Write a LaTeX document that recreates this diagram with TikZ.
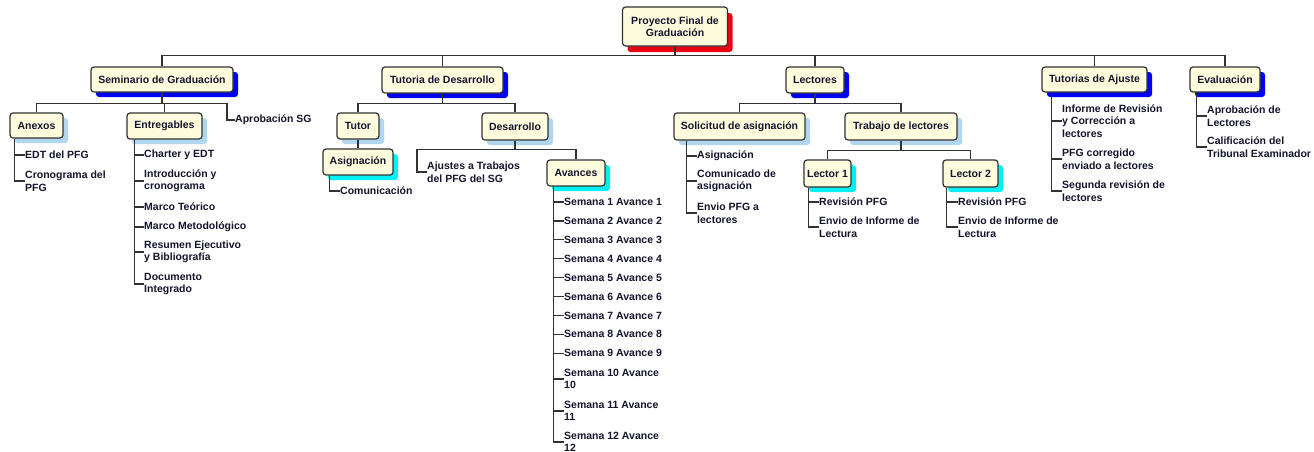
\documentclass[tikz,border=0pt]{standalone}
\usepackage{fontspec}
\setmainfont{Liberation Sans}
\usetikzlibrary{shadows,calc}
\definecolor{boxfill}{RGB}{255,252,222}
\definecolor{linec}{RGB}{50,50,50}
\definecolor{txt}{RGB}{20,20,45}
\definecolor{shA}{RGB}{0,0,245}
\definecolor{shB}{RGB}{176,214,240}
\definecolor{shC}{RGB}{0,240,245}
\definecolor{shR}{RGB}{235,0,20}
\tikzset{
  wbox/.style={draw=linec, line width=1.2pt, rounded corners=3pt, fill=boxfill,
    font=\bfseries\fontsize{10.5}{12.5}\selectfont, text=txt, inner sep=0pt, align=center},
  shadowR/.style={drop shadow={shadow xshift=5pt, shadow yshift=-6pt, fill=shR, opacity=1}},
  shadowA/.style={drop shadow={shadow xshift=5pt, shadow yshift=-5pt, fill=shA, opacity=1}},
  shadowB/.style={drop shadow={shadow xshift=5pt, shadow yshift=-5pt, fill=shB, opacity=1}},
  shadowC/.style={drop shadow={shadow xshift=5pt, shadow yshift=-5pt, fill=shC, opacity=1}},
  leaf/.style={anchor=west, inner sep=0pt, align=left, text=txt,
    font=\bfseries\fontsize{10.5}{12.5}\selectfont},
  conn/.style={draw=linec, line width=1.2pt}
}
\begin{document}
\begin{tikzpicture}[x=1pt,y=-1pt]
\clip (0,0) rectangle (1314,451);
\fill[white] (0,0) rectangle (1314,451);
% boxes
\node[wbox,shadowR,minimum width=105,minimum height=39] (root) at (675,26.5) {Proyecto Final de\\Graduación};
\node[wbox,shadowA,minimum width=142,minimum height=25] (sem) at (162,79.5) {Seminario de Graduación};
\node[wbox,shadowA,minimum width=121,minimum height=26] (tut) at (442.5,80) {Tutoria de Desarrollo};
\node[wbox,shadowA,minimum width=58,minimum height=26] (lec) at (815,80) {Lectores};
\node[wbox,shadowA,minimum width=105,minimum height=25] (taj) at (1094.5,79.5) {Tutorias de Ajuste};
\node[wbox,shadowA,minimum width=70,minimum height=25] (eva) at (1225,79.5) {Evaluación};
\node[wbox,shadowB,minimum width=53,minimum height=25] (anx) at (36.5,125.5) {Anexos};
\node[wbox,shadowB,minimum width=75,minimum height=26] (ent) at (164.5,126) {Entregables};
\node[wbox,shadowB,minimum width=42,minimum height=26] (tutor) at (358,126) {Tutor};
\node[wbox,shadowB,minimum width=66,minimum height=27] (des) at (515,126.5) {Desarrollo};
\node[wbox,shadowC,minimum width=70,minimum height=26] (asg) at (358,162) {Asignación};
\node[wbox,shadowC,minimum width=58,minimum height=26] (ava) at (576,173) {Avances};
\node[wbox,shadowB,minimum width=131,minimum height=27] (sol) at (739.5,126.5) {Solicitud de asignación};
\node[wbox,shadowB,minimum width=112,minimum height=27] (tra) at (901,126.5) {Trabajo de lectores};
\node[wbox,shadowC,minimum width=47,minimum height=27] (l1) at (827.5,173.5) {Lector 1};
\node[wbox,shadowC,minimum width=55,minimum height=27] (l2) at (970.5,173.5) {Lector 2};
% leaves
\node[leaf] (a1) at (25,155) {EDT del PFG};
\node[leaf] (a2) at (25,181) {Cronograma del\\PFG};
\node[leaf] (e1) at (144,155) {Charter y EDT};
\node[leaf] (e2) at (144,181) {Introducción y\\cronograma};
\node[leaf] (e3) at (144,207) {Marco Teórico};
\node[leaf] (e4) at (144,227) {Marco Metodológico};
\node[leaf] (e5) at (144,252) {Resumen Ejecutivo\\y Bibliografía};
\node[leaf] (e6) at (144,284) {Documento\\Integrado};
\node[leaf] (apr) at (235,120) {Aprobación SG};
\node[leaf] (com) at (340,191) {Comunicación};
\node[leaf] (aju) at (427,172) {Ajustes a Trabajos\\del PFG del SG};
\foreach \i in {1,...,9} {
  \node[leaf] (w\i) at (564,{202+18.9*(\i-1)}) {Semana \i{} Avance \i};
}
\node[leaf] (w10) at (564,379) {Semana 10 Avance\\10};
\node[leaf] (w11) at (564,411) {Semana 11 Avance\\11};
\node[leaf] (w12) at (564,442) {Semana 12 Avance\\12};
\node[leaf] (s1) at (697,156) {Asignación};
\node[leaf] (s2) at (697,181) {Comunicado de\\asignación};
\node[leaf] (s3) at (697,213) {Envio PFG a\\lectores};
\node[leaf] (r1) at (819,202) {Revisión PFG};
\node[leaf] (r2) at (819,227) {Envio de Informe de\\Lectura};
\node[leaf] (q1) at (958,202) {Revisión PFG};
\node[leaf] (q2) at (958,227) {Envio de Informe de\\Lectura};
\node[leaf] (t1) at (1062,121) {Informe de Revisión\\y Corrección a\\lectores};
\node[leaf] (t2) at (1062,159) {PFG corregido\\enviado a lectores};
\node[leaf] (t3) at (1062,191) {Segunda revisión de\\lectores};
\node[leaf] (v1) at (1207,116) {Aprobación de\\Lectores};
\node[leaf] (v2) at (1207,147) {Calificación del\\Tribunal Examinador};
% bus coordinates
\coordinate (rootB) at ($(root.south)+(0,9)$);
\coordinate (semB) at ($(sem.south)+(0,11)$);
\coordinate (tutB) at ($(tut.south)+(0,10)$);
\coordinate (desB) at ($(des.south)+(0,9)$);
\coordinate (lecB) at ($(lec.south)+(0,10)$);
\coordinate (traB) at ($(tra.south)+(0,10)$);
% level 1
\draw[conn] (root.south) -- (rootB);
\foreach \n in {sem,tut,lec,taj,eva} { \draw[conn] (\n.north) |- (rootB); }
% seminario
\draw[conn] (sem.south) -- (semB);
\draw[conn] (anx.north) |- (semB);
\draw[conn] (ent.north) |- (semB);
\draw[conn] (apr.west) -- ++(-8,0) |- (semB);
\coordinate (anxV) at ([xshift=5pt]anx.south west);
\foreach \n in {a1,a2} { \draw[conn] (anxV) |- (\n.west); }
\coordinate (entV) at ([xshift=8pt]ent.south west);
\foreach \n in {e1,e2,e3,e4,e5,e6} { \draw[conn] (entV) |- (\n.west); }
% tutoria
\draw[conn] (tut.south) -- (tutB);
\draw[conn] (tutor.north) |- (tutB);
\draw[conn] (des.north) |- (tutB);
\draw[conn] (tutor.south) -- (asg.north);
\coordinate (asgV) at ([xshift=7pt]asg.south west);
\draw[conn] (asgV) |- (com.west);
\draw[conn] (des.south) -- (desB);
\draw[conn] (ava.north) |- (desB);
\draw[conn] (aju.west) -- ++(-10,0) |- (desB);
\coordinate (avaV) at ([xshift=7pt]ava.south west);
\foreach \i in {1,...,12} { \draw[conn] (avaV) |- (w\i.west); }
% lectores
\draw[conn] (lec.south) -- (lecB);
\draw[conn] (sol.north) |- (lecB);
\draw[conn] (tra.north) |- (lecB);
\coordinate (solV) at ([xshift=13pt]sol.south west);
\foreach \n in {s1,s2,s3} { \draw[conn] (solV) |- (\n.west); }
\draw[conn] (tra.south) -- (traB);
\draw[conn] (l1.north) |- (traB);
\draw[conn] (l2.north) |- (traB);
\coordinate (l1V) at ([xshift=5pt]l1.south west);
\foreach \n in {r1,r2} { \draw[conn] (l1V) |- (\n.west); }
\coordinate (l2V) at ([xshift=4pt]l2.south west);
\foreach \n in {q1,q2} { \draw[conn] (l2V) |- (\n.west); }
% tutorias de ajuste
\coordinate (tajV) at ([xshift=10pt]taj.south west);
\foreach \n in {t1,t2,t3} { \draw[conn] (tajV) |- (\n.west); }
% evaluacion
\coordinate (evaV) at ([xshift=7pt]eva.south west);
\foreach \n in {v1,v2} { \draw[conn] (evaV) |- (\n.west); }
\end{tikzpicture}
\end{document}
